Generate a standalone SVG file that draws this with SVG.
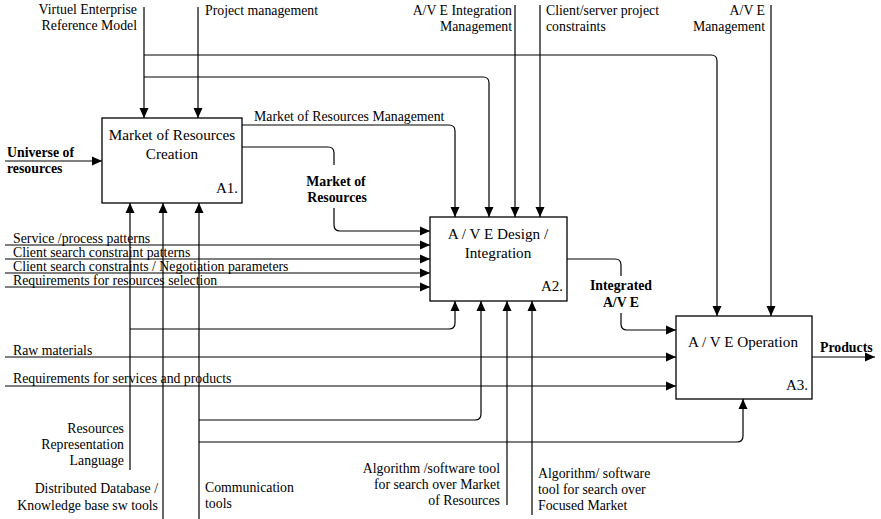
<svg xmlns="http://www.w3.org/2000/svg" width="881" height="519" viewBox="0 0 881 519">
<style>
  .box{fill:#fff;stroke:#000;stroke-width:1.3}
  .ln{fill:none;stroke:#000;stroke-width:1.2}
  .arr{marker-end:url(#ah)}
  text{font-family:"Liberation Serif","Times New Roman",serif;fill:#000;font-size:13.8px}
  .t{font-size:15.2px;text-anchor:middle}
  .b{font-weight:bold}
  .r{text-anchor:end}
  .m{text-anchor:middle}
</style>
<defs>
  <marker id="ah" markerUnits="userSpaceOnUse" markerWidth="10" markerHeight="10" refX="10" refY="4.5" orient="auto" viewBox="0 0 10 9">
    <path d="M0,0 L10,4.5 L0,9 z" fill="#000"/>
  </marker>
</defs>
<rect width="881" height="519" fill="#fff"/>
<g id="connectors">
  <path class="ln arr" d="M144,7 V118"/>
  <path class="ln arr" d="M144,55 H711 Q717,55 717,61 V316"/>
  <path class="ln arr" d="M144,77 H483 Q489,77 489,83 V217"/>
  <path class="ln arr" d="M198,7 V118"/>
  <path class="ln arr" d="M515,5 V217"/>
  <path class="ln arr" d="M540,5 V217"/>
  <path class="ln arr" d="M771,5 V316"/>
  <path class="ln arr" d="M5,161 H102"/>
  <path class="ln arr" d="M242,125 H449 Q455,125 455,131 V217"/>
  <path class="ln" d="M242,147 H328 Q334,147 334,153 V165"/>
  <path class="ln arr" d="M334,208 V225 Q334,231 340,231 H430"/>
  <path class="ln arr" d="M5,245 H430"/>
  <path class="ln arr" d="M5,259 H430"/>
  <path class="ln arr" d="M5,273 H430"/>
  <path class="ln arr" d="M5,287 H430"/>
  <path class="ln" d="M567,259 H615 Q621,259 621,265 V276"/>
  <path class="ln arr" d="M621,313 V324 Q621,330 627,330 H676"/>
  <path class="ln arr" d="M5,357 H676"/>
  <path class="ln arr" d="M5,386 H676"/>
  <path class="ln arr" d="M812,357 H875"/>
  <path class="ln arr" d="M130,470 V203"/>
  <path class="ln arr" d="M130,329 H449 Q455,329 455,323 V301"/>
  <path class="ln arr" d="M163,519 V203"/>
  <path class="ln arr" d="M199,519 V203"/>
  <path class="ln arr" d="M199,420 H475 Q481,420 481,414 V301"/>
  <path class="ln arr" d="M199,442 H737 Q743,442 743,436 V399"/>
  <path class="ln arr" d="M507,505 V301"/>
  <path class="ln arr" d="M532,515 V301"/>
</g>
<g id="A1">
  <rect class="box" x="102" y="118" width="140" height="85"/>
  <text class="t" x="172" y="140">Market of Resources</text>
  <text class="t" x="172" y="159">Creation</text>
  <text class="r" x="238" y="193" style="font-size:15px">A1.</text>
</g>
<g id="A2">
  <rect class="box" x="430" y="217" width="137" height="84"/>
  <text class="t" x="498" y="239">A / V E Design /</text>
  <text class="t" x="498" y="258">Integration</text>
  <text class="r" x="563" y="291" style="font-size:15px">A2.</text>
</g>
<g id="A3">
  <rect class="box" x="676" y="316" width="136" height="83"/>
  <text class="t" x="743" y="347">A / V E Operation</text>
  <text class="r" x="808" y="390" style="font-size:15px">A3.</text>
</g>
<g id="labels">
  <text class="r" x="137" y="14">Virtuel Enterprise</text>
  <text class="r" x="137" y="30">Reference Model</text>
  <text x="205" y="15">Project management</text>
  <text class="r" x="512" y="15">A/V E Integration</text>
  <text class="r" x="512" y="31">Management</text>
  <text x="546" y="15">Client/server project</text>
  <text x="546" y="31">constraints</text>
  <text class="r" x="765" y="15">A/V E</text>
  <text class="r" x="765" y="31">Management</text>
  <text class="b" x="7" y="157">Universe of</text>
  <text class="b" x="7" y="173">resources</text>
  <text x="254" y="121">Market of Resources Management</text>
  <text class="b m" x="336" y="186">Market of</text>
  <text class="b m" x="337" y="202">Resources</text>
  <text x="13" y="243">Service /process patterns</text>
  <text x="13" y="257">Client search constraint patterns</text>
  <text x="13" y="271">Client search constraints / Negotiation parameters</text>
  <text x="13" y="285">Requirements for resources selection</text>
  <text class="b m" x="621" y="290">Integrated</text>
  <text class="b m" x="621" y="307">A/V E</text>
  <text class="b" x="820" y="352">Products</text>
  <text x="13" y="355">Raw materials</text>
  <text x="13" y="383">Requirements for services and products</text>
  <text class="r" x="124" y="433">Resources</text>
  <text class="r" x="124" y="449">Representation</text>
  <text class="r" x="124" y="465">Language</text>
  <text class="r" x="158" y="493">Distributed Database /</text>
  <text class="r" x="158" y="510">Knowledge base sw tools</text>
  <text x="205" y="492">Communication</text>
  <text x="205" y="508">tools</text>
  <text class="r" x="500" y="473">Algorithm /software tool</text>
  <text class="r" x="500" y="489">for search over Market</text>
  <text class="r" x="500" y="505">of Resources</text>
  <text x="538" y="478">Algorithm/ software</text>
  <text x="538" y="494">tool for search over</text>
  <text x="538" y="510">Focused Market</text>
</g>
</svg>
